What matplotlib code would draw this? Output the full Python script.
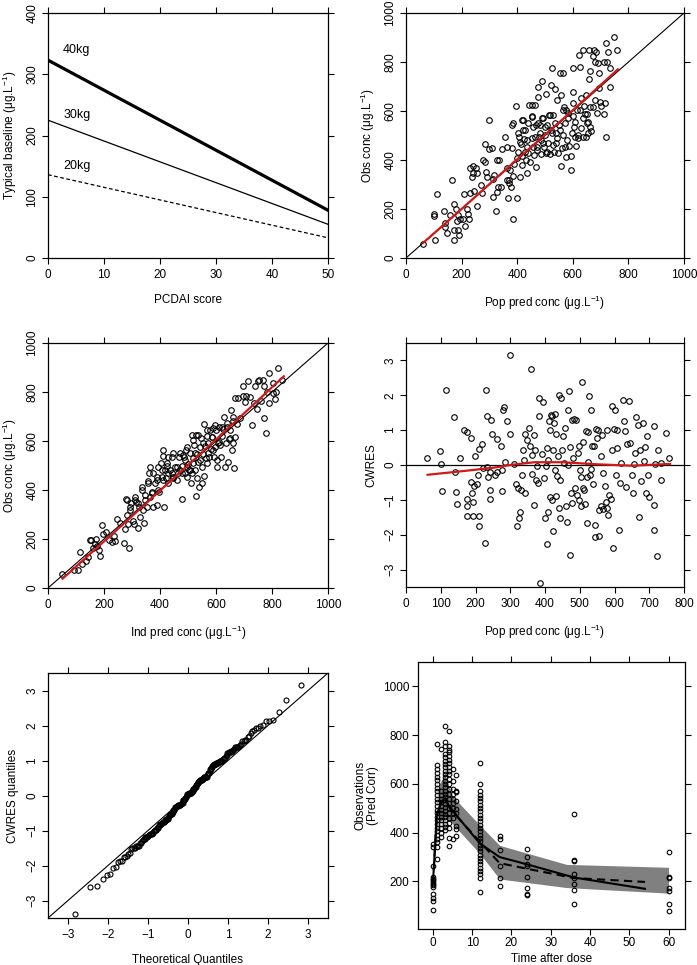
import statistics
import matplotlib
matplotlib.use("Agg")
import matplotlib.pyplot as plt

plt.rcParams["font.family"] = ["Liberation Sans", "DejaVu Sans"]
plt.rcParams["mathtext.fontset"] = "custom"
plt.rcParams["mathtext.rm"] = "Liberation Sans"
plt.rcParams["mathtext.default"] = "regular"
plt.rcParams["font.size"] = 8.5

# ---- panel 1: typical baseline vs PCDAI ----
pcdai = [0, 50]
base_40kg = [323, 78]
base_30kg = [225, 55]
base_20kg = [136, 33]

# ---- panel 2: obs vs pop pred ----
pop_pred = [60, 100, 100, 104, 113, 138, 142, 142, 148, 158,
            166, 174, 174, 174, 180, 184, 188, 188, 192, 196,
            204, 207, 212, 218, 224, 228, 231, 232, 237, 240,
            242, 244, 251, 254, 257, 268, 275, 278, 284, 284,
            287, 290, 297, 299, 311, 314, 314, 317, 323, 326,
            328, 332, 335, 340, 344, 356, 362, 364, 368, 371,
            371, 374, 377, 380, 383, 386, 386, 389, 394, 398,
            401, 404, 407, 410, 412, 416, 419, 419, 422, 424,
            428, 431, 434, 436, 440, 443, 446, 452, 452, 455,
            458, 460, 464, 467, 469, 473, 475, 475, 478, 481,
            484, 487, 491, 493, 496, 499, 502, 505, 508, 511,
            514, 517, 521, 523, 526, 529, 532, 535, 538, 541,
            544, 547, 551, 553, 556, 559, 563, 565, 568, 571,
            575, 577, 583, 587, 592, 595, 599, 599, 601, 605,
            608, 611, 616, 619, 623, 625, 628, 631, 635, 637,
            640, 643, 647, 649, 652, 655, 659, 659, 661, 663,
            667, 671, 673, 677, 679, 681, 685, 688, 691, 695,
            695, 697, 701, 711, 713, 715, 719, 721, 723, 727,
            734, 735, 749, 759,
            362, 386, 404, 410, 422, 428, 434, 440, 452, 458,
            464, 470, 476, 482, 488, 494, 500, 506, 518, 524,
            530, 536, 542, 554, 560, 566, 572, 578, 584, 596,
            602, 608, 620, 626, 638, 650, 656, 662]
obs_pop = [59, 181, 170, 72, 260, 192, 143, 127, 102, 175,
           320, 220, 113, 75, 198, 151, 175, 116, 95, 161,
           161, 263, 132, 202, 181, 161, 366, 267, 331, 345,
           377, 274, 366, 345, 211, 300, 266, 400, 393, 465,
           352, 331, 443, 563, 447, 321, 250, 338, 192, 400,
           270, 290, 400, 290, 443, 495, 366, 318, 243, 318,
           307, 359, 290, 450, 543, 161, 336, 382, 621, 409,
           243, 434, 495, 331, 465, 563, 416, 379, 523, 484,
           434, 402, 345, 454, 550, 625, 390, 488, 625, 580,
           454, 420, 625, 543, 372, 441, 659, 697, 495, 543,
           424, 482, 723, 570, 454, 502, 427, 669, 543, 468,
           584, 424, 707, 523, 775, 584, 434, 689, 512, 468,
           645, 427, 543, 757, 666, 375, 757, 502, 618, 454,
           604, 413, 570, 457, 416, 361, 775, 580, 679, 533,
           492, 457, 604, 502, 827, 780, 529, 652, 495, 848,
           621, 588, 495, 666, 588, 557, 848, 730, 764, 533,
           520, 825, 618, 851, 798, 645, 839, 590, 795, 693,
           757, 638, 621, 588, 798, 632, 877, 495, 802, 839,
           775, 697, 902, 848,
           455, 550, 509, 475, 563, 522, 482, 427, 577, 536,
           495, 455, 550, 509, 570, 468, 536, 434, 584, 509,
           461, 550, 488, 522, 448, 604, 550, 482, 591, 509,
           632, 556, 488, 604, 570, 550, 509, 618]
pop_fit_x = [62, 200, 400, 600, 762]
pop_fit_y = [62, 200, 403, 603, 770]

# ---- panel 3: obs vs ind pred ----
ind_pred = [50, 92, 107, 116, 123, 137, 143, 149, 155, 161,
            167, 173, 175, 181, 187, 193, 197, 206, 218, 227,
            235, 239, 248, 256, 271, 276, 280, 283, 286, 289,
            292, 298, 302, 307, 310, 316, 322, 326, 328, 334,
            338, 342, 346, 352, 358, 362, 364, 366, 370, 376,
            382, 388, 391, 394, 397, 402, 406, 409, 412, 414,
            418, 421, 424, 427, 430, 436, 442, 445, 447, 453,
            459, 465, 469, 471, 477, 480, 483, 487, 489, 493,
            495, 498, 501, 505, 507, 510, 513, 514, 517, 519,
            521, 525, 527, 529, 531, 533, 537, 539, 543, 547,
            549, 551, 555, 557, 558, 561, 563, 567, 569, 573,
            576, 579, 582, 585, 588, 591, 593, 597, 600, 603,
            605, 609, 612, 615, 617, 621, 624, 629, 632, 636,
            638, 642, 646, 650, 654, 656, 660, 662, 665, 667,
            669, 674, 680, 686, 696, 698, 704, 708, 715, 720,
            728, 736, 741, 748, 749, 755, 761, 767, 770, 772,
            779, 782, 788, 791, 803, 805, 811, 815, 823, 835,
            281, 293, 311, 323, 335, 346, 358, 370, 376, 388,
            394, 406, 412, 424, 430, 442, 448, 460, 471, 477,
            489, 495, 507, 519, 525, 537, 543, 555, 567, 573,
            585, 596, 608, 620, 638, 650, 662]
obs_ind = [59, 75, 72, 145, 100, 110, 127, 195, 195, 165,
           181, 198, 170, 154, 131, 259, 220, 229, 195, 188,
           211, 190, 281, 267, 184, 240, 363, 297, 263, 165,
           318, 345, 273, 263, 359, 352, 243, 331, 291, 413,
           318, 266, 379, 331, 438, 468, 495, 372, 393, 331,
           427, 454, 338, 495, 393, 509, 454, 540, 563, 331,
           482, 447, 498, 536, 427, 482, 468, 553, 447, 495,
           441, 468, 536, 482, 498, 362, 543, 536, 468, 563,
           495, 454, 505, 482, 550, 427, 468, 625, 509, 529,
           584, 482, 375, 625, 447, 547, 516, 413, 574, 611,
           495, 427, 547, 457, 668, 580, 532, 621, 509, 591,
           536, 646, 568, 618, 565, 652, 536, 577, 643, 522,
           495, 595, 658, 584, 536, 621, 650, 697, 495, 591,
           656, 515, 607, 646, 727, 563, 683, 593, 491, 618,
           775, 670, 775, 693, 826, 782, 761, 782, 843, 779,
           666, 754, 823, 730, 846, 849, 765, 849, 693, 826,
           632, 798, 877, 754, 836, 795, 771, 802, 898, 847,
           359, 332, 373, 346, 400, 359, 427, 387, 468, 441,
           400, 482, 441, 509, 468, 536, 454, 495, 550, 468,
           522, 577, 482, 604, 550, 624, 522, 591, 645, 550,
           618, 665, 591, 659, 672, 611, 699]
ind_fit_x = [52, 300, 600, 842]
ind_fit_y = [38, 293, 606, 864]

# ---- panel 4/5: CWRES ----
cwres_pred = [60, 99, 102, 105, 116, 139, 142, 143, 148, 156,
              166, 175, 175, 175, 175, 186, 186, 191, 192, 192,
              196, 199, 204, 206, 209, 209, 209, 218, 221, 227,
              231, 234, 232, 237, 244, 242, 242, 242, 247, 256,
              261, 261, 273, 276, 277, 279, 283, 285, 292, 298,
              300, 312, 316, 318, 323, 326, 328, 331, 333, 338,
              343, 341, 343, 347, 353, 358, 360, 363, 364, 367,
              368, 371, 374, 378, 381, 383, 384, 386, 390, 393,
              397, 400, 403, 405, 407, 409, 410, 412, 414, 417,
              414, 419, 422, 420, 424, 426, 428, 428, 432, 433,
              435, 438, 440, 443, 441, 443, 445, 449, 453, 454,
              457, 460, 464, 465, 467, 470, 472, 472, 474, 477,
              477, 481, 483, 486, 489, 491, 494, 497, 498, 500,
              503, 505, 507, 508, 510, 512, 515, 518, 520, 521,
              523, 525, 527, 529, 531, 533, 535, 539, 541, 543,
              545, 548, 549, 553, 555, 556, 560, 561, 563, 566,
              568, 572, 575, 577, 579, 582, 585, 589, 592, 594,
              596, 598, 601, 603, 606, 608, 613, 615, 620, 625,
              627, 630, 633, 637, 643, 645, 651, 653, 656, 660,
              663, 670, 668, 673, 675, 682, 684, 687, 692, 694,
              697, 700, 713, 714, 714, 716, 723, 725, 733, 735,
              749, 757]
cwres = [0.20, 0.39, 0.04, -0.76, 2.16, 1.38, -0.21, -0.77, -1.11, 0.20,
         1.00, 0.94, -0.98, -1.19, -1.45, 0.77, -0.50, -0.79, -1.07, -1.45,
         -0.59, 0.25, -0.55, -0.28, -1.76, 0.47, -1.45, 0.60, -0.09, -2.24,
         2.14, 1.42, -0.06, -0.33, 1.28, -0.21, -0.98, -0.71, 0.90, -0.30,
         0.76, -0.21, 0.54, -0.76, -0.13, 1.57, 1.66, 0.08, 1.25, 0.90,
         3.15, 0.03, -0.54, -1.76, -0.66, -1.51, -1.36, -0.71, -0.28, 0.42,
         -0.79, 0.13, 0.90, 0.71, 1.06, 0.54, 2.74, 0.29, -0.25, -1.14,
         0.87, 0.42, -0.42, -0.04, -0.52, 1.40, 1.92, -3.39, 0.32, 1.80,
         -0.37, -1.51, -0.04, -2.27, 0.50, -1.35, 0.13, 1.25, 1.00, 1.44,
         -0.92, -1.01, -1.89, 1.40, 0.44, 1.21, -0.13, 1.46, -0.90, 0.90,
         -0.31, 0.25, 2.02, -0.42, -1.23, -1.53, 1.92, 0.44, 0.82, 0.06,
         1.06, -1.19, -1.63, 1.57, 0.01, 2.13, -2.58, 0.52, -0.80, 1.30,
         -1.09, 0.20, 1.32, -0.66, 1.28, -0.85, 0.35, -1.00, 0.54, -0.13,
         -1.19, -0.33, 2.38, 0.65, -0.66, -0.73, -1.11, 0.97, -0.33, -1.67,
         0.94, 0.08, 1.99, -0.28, 1.59, -0.12, 0.54, -0.54, 0.54, -1.72,
         -2.07, 1.03, 0.78, 1.00, -2.05, -1.30, -1.17, 0.25, 0.87, -1.27,
         -0.23, -0.59, -1.07, 1.00, -1.23, -1.43, -0.85, -0.98, 0.44, 1.70,
         -2.38, 1.04, 1.59, -0.30, 1.00, 0.48, -1.86, -0.52, 0.06, 1.86,
         1.25, 0.97, -0.63, 0.61, 1.83, 0.63, -0.28, -0.80, 0.04, 0.33,
         1.38, -1.50, 1.16, 0.44, -0.47, 1.21, 0.11, 0.52, -0.80, 0.84,
         -0.28, -0.92, -1.14, 1.13, -1.86, 0.04, -2.61, 0.44, 0.06, -0.42,
         0.92, 0.20]
cwres_fit_x = [62, 150, 250, 300, 370, 450, 550, 650, 760]
cwres_fit_y = [-0.28, -0.19, -0.08, 0.0, 0.08, 0.08, 0.02, -0.02, 0.03]

# ---- panel 6: VPC ----
vpc_times = [0, 1, 2, 3, 4, 5, 6, 12, 17, 24, 36, 60]
vpc_obs = [
    [355, 341, 262, 218, 211, 205, 198, 191, 184, 177, 150, 134, 118, 82],
    [764, 676, 660, 645, 630, 615, 600, 585, 570, 555, 540, 525, 510,
     495, 480, 465, 450, 435, 420, 405, 390, 375, 360, 341, 293],
    [744, 573, 555, 540, 525, 510, 495, 480, 465, 450, 435, 420, 400, 382],
    [836, 771, 757, 723, 710, 696, 682, 668, 655, 641, 628, 614, 600, 587,
     573, 559, 545, 532, 518, 505, 490, 477, 463, 450, 436, 423, 410],
    [815, 757, 740, 730, 715, 700, 685, 670, 655, 640, 620, 600, 580, 560,
     540, 520, 500, 480, 460, 440, 420, 380, 347],
    [662, 611, 580, 560, 540, 520, 500, 480, 460, 375],
    [638, 573, 566, 531, 497, 480, 429, 415, 388],
    [686, 600, 570, 556, 543, 529, 515, 502, 488, 474, 461, 447, 433, 420,
     406, 392, 379, 365, 351, 338, 324, 310, 297, 283, 270, 256, 242, 229,
     215, 157],
    [385, 375, 328, 262, 215, 180],
    [335, 300, 270, 263, 218, 172, 148, 145],
    [476, 290, 285, 232, 213, 190, 163, 107],
    [322, 220, 215, 175, 160, 108, 80],
]
med_t = [0, 1, 2, 3, 4.5, 12, 17, 24, 36, 54]
obs_median = [192, 470, 520, 540, 500, 355, 300, 270, 216, 170]
sim_median = [192, 470, 520, 540, 495, 362, 275, 252, 214, 198]
band_t = [1.5, 3, 4.8, 12, 17, 34, 60]
band_hi = [595, 640, 553, 430, 348, 270, 258]
band_lo = [440, 470, 440, 313, 210, 175, 152]

W, H = 697, 965
fig = plt.figure(figsize=(W / 100, H / 100), dpi=100)


def panel(left, right, top, bottom):
    return fig.add_axes([left / W, 1 - bottom / H,
                         (right - left) / W, (bottom - top) / H])


def base_style(ax):
    ax.tick_params(direction="out", length=4, width=0.8, top=True,
                   right=True, labelsize=8.5)
    ax.tick_params(axis="x", pad=4)
    ax.tick_params(axis="y", pad=3)
    for s in ax.spines.values():
        s.set_linewidth(0.9)
    plt.setp(ax.get_yticklabels(), rotation=90, va="center")
    ax.xaxis.labelpad = 9
    ax.yaxis.labelpad = 5


def circles(ax, x, y, ms=4.0):
    ax.plot(x, y, "o", mfc="none", mec="black", ms=ms, mew=0.8)


unit = "(\u03bcg.L$^{-1}$)"
red = "#d01818"

# panel 1
ax1 = panel(48, 328, 13, 258)
ax1.plot(pcdai, base_40kg, color="black", lw=2.3)
ax1.plot(pcdai, base_30kg, color="black", lw=0.9)
ax1.plot(pcdai, base_20kg, color="black", lw=0.9, ls=(0, (3, 2)))
ax1.text(2.7, 340, "40kg", va="center", fontsize=9)
ax1.text(2.7, 233, "30kg", va="center", fontsize=9)
ax1.text(2.7, 151, "20kg", va="center", fontsize=9)
ax1.set_xlim(0, 50)
ax1.set_ylim(0, 400)
ax1.set_xticks(range(0, 51, 10))
ax1.set_yticks(range(0, 401, 100))
ax1.set_xlabel("PCDAI score")
ax1.set_ylabel("Typical baseline " + unit)
base_style(ax1)

# panel 2
ax2 = panel(406, 684, 13, 258)
circles(ax2, pop_pred, obs_pop)
ax2.plot([0, 1000], [0, 1000], color="black", lw=0.8)
ax2.plot(pop_fit_x, pop_fit_y, color=red, lw=1.6)
ax2.set_xlim(0, 1000)
ax2.set_ylim(0, 1000)
ax2.set_xticks(range(0, 1001, 200))
ax2.set_yticks(range(0, 1001, 200))
ax2.set_xlabel("Pop pred conc " + unit)
ax2.set_ylabel("Obs conc " + unit)
base_style(ax2)

# panel 3
ax3 = panel(48, 328, 343, 588)
circles(ax3, ind_pred, obs_ind)
ax3.plot([0, 1000], [0, 1000], color="black", lw=0.8)
ax3.plot(ind_fit_x, ind_fit_y, color=red, lw=1.6)
ax3.set_xlim(0, 1000)
ax3.set_ylim(0, 1000)
ax3.set_xticks(range(0, 1001, 200))
ax3.set_yticks(range(0, 1001, 200))
ax3.set_xlabel("Ind pred conc " + unit)
ax3.set_ylabel("Obs conc " + unit)
base_style(ax3)

# panel 4
ax4 = panel(406, 684, 343, 587)
circles(ax4, cwres_pred, cwres)
ax4.axhline(0, color="black", lw=0.9)
ax4.plot(cwres_fit_x, cwres_fit_y, color=red, lw=1.6)
ax4.set_xlim(0, 800)
ax4.set_ylim(-3.5, 3.5)
ax4.set_xticks(range(0, 801, 100))
ax4.set_yticks(range(-3, 4))
ax4.set_xlabel("Pop pred conc " + unit)
ax4.set_ylabel("CWRES")
base_style(ax4)

# panel 5: normal QQ plot of the CWRES
ax5 = panel(48, 328, 673, 918)
n = len(cwres)
nd = statistics.NormalDist()
theo = [nd.inv_cdf((i + 0.5) / n) for i in range(n)]
circles(ax5, theo, sorted(cwres), ms=3.6)
ax5.plot([-3.5, 3.5], [-3.5, 3.5], color="black", lw=0.8)
ax5.set_xlim(-3.5, 3.5)
ax5.set_ylim(-3.5, 3.5)
ax5.set_xticks(range(-3, 4))
ax5.set_yticks(range(-3, 4))
ax5.set_xlabel("Theoretical Quantiles")
ax5.set_ylabel("CWRES quantiles")
base_style(ax5)

# panel 6: VPC (lattice look)
ax6 = panel(418, 685, 662, 929)
ax6.fill_between(band_t, band_lo, band_hi, color="#808080", lw=0)
for t, vals in zip(vpc_times, vpc_obs):
    circles(ax6, [t] * len(vals), vals, ms=3.3)
ax6.plot(med_t, obs_median, color="black", lw=1.5)
ax6.plot(med_t, sim_median, color="black", lw=1.5, ls=(0, (4, 2.5)))
ax6.set_xlim(-3.8, 64.2)
ax6.set_ylim(5, 1100)
ax6.set_xticks(range(0, 61, 10))
ax6.set_yticks(range(200, 1001, 200))
ax6.tick_params(direction="out", length=4, width=0.8, top=True,
                right=True, labelsize=8.5, pad=2)
for s in ax6.spines.values():
    s.set_linewidth(0.9)
ax6.set_xlabel("Time after dose", labelpad=3)
ax6.set_ylabel("Observations\n(Pred Corr)", labelpad=3, linespacing=1.1)

fig.savefig("out.png", dpi=100)
